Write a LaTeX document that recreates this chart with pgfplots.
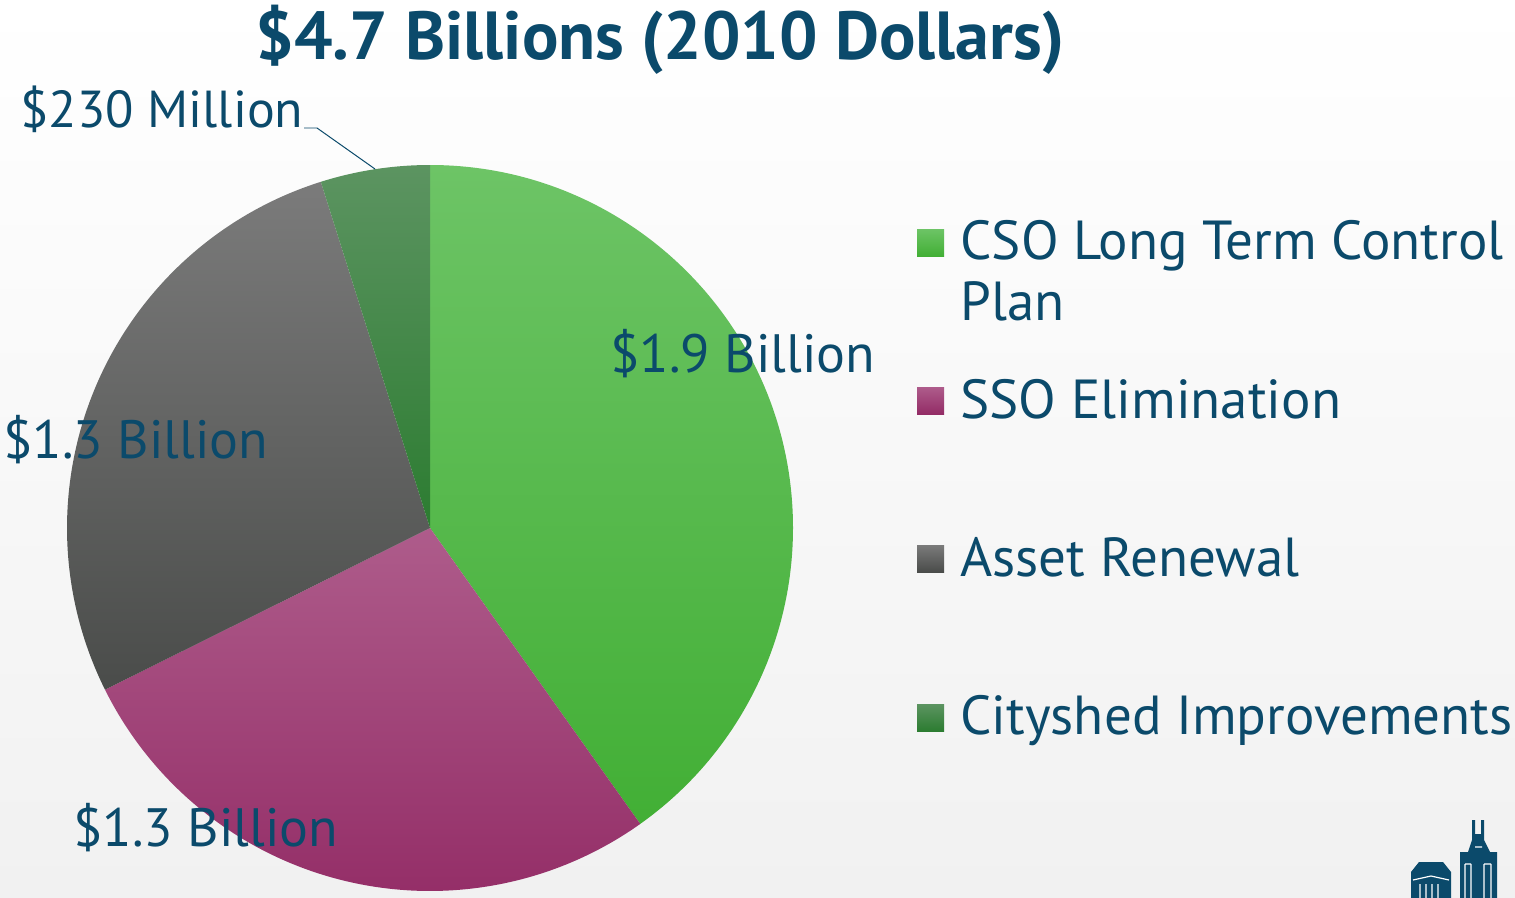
\documentclass[border=0pt]{standalone}
\usepackage{pgfplots}
\pgfplotsset{compat=1.18}
\usepackage{pgfplotstable}
\usepackage{fontspec}
\setmainfont{PT Sans}

\definecolor{txtblue}{HTML}{0B4A6B}
\definecolor{gTop}{HTML}{6DC466}
\definecolor{gBot}{HTML}{42AF35}
\definecolor{mTop}{HTML}{AE5C8B}
\definecolor{mBot}{HTML}{932C66}
\definecolor{kTop}{HTML}{7B7B7B}
\definecolor{kBot}{HTML}{4A4C4A}
\definecolor{dTop}{HTML}{5C9461}
\definecolor{dBot}{HTML}{2C7C31}
\definecolor{bgBot}{HTML}{F1F1F1}

\pgfplotstableread{
label value
CSO 1.9
SSO 1.3
Asset 1.3
Cityshed 0.23
}\piedata

\newcommand\getval[2]{\pgfplotstablegetelem{#1}{value}\of\piedata\let#2\pgfplotsretval}
\getval{0}\vA
\getval{1}\vB
\getval{2}\vC
\getval{3}\vD
\pgfmathsetmacro\tot{\vA+\vB+\vC+\vD}
\pgfmathsetmacro\aA{90}
\pgfmathsetmacro\aB{\aA-360*\vA/\tot}
\pgfmathsetmacro\aC{\aB-360*\vB/\tot}
\pgfmathsetmacro\aD{\aC-360*\vC/\tot}
\pgfmathsetmacro\aE{\aD-360*\vD/\tot}

% pie slice: start angle, end angle, top colour, bottom colour
\newcommand\slice[4]{%
  \path[top color=#3, bottom color=#4]
    (axis cs:430,528) -- (axis cs:{430+363*cos(#1)},{528-363*sin(#1)})
    arc[start angle=#1, end angle=#2, radius=181.5bp] -- cycle;}

\newcommand\lbl{\fontsize{27bp}{32bp}\selectfont}
\newcommand\lgd{\fontsize{27.5bp}{32bp}\selectfont}

\begin{document}
\begin{tikzpicture}
\begin{axis}[
    scale only axis,
    width=757.5bp, height=449bp,
    xmin=0, xmax=1515, ymin=0, ymax=898,
    y dir=reverse,
    hide axis,
    clip=false,
]
% background
\path[top color=white, bottom color=bgBot] (axis cs:0,0) rectangle (axis cs:1515,898);

\slice{\aA}{\aB}{gTop}{gBot}
\slice{\aB}{\aC}{mTop}{mBot}
\slice{\aC}{\aD}{kTop}{kBot}
\slice{\aD}{\aE}{dTop}{dBot}

% title
\node[anchor=base, inner sep=0, text=txtblue, font=\fontsize{34bp}{40bp}\selectfont\bfseries]
  at (axis cs:660,60) {\$4.7 Billions (2010 Dollars)};

% slice labels
\node[anchor=base west, inner sep=0, text=txtblue, font=\lbl] at (axis cs:610,372) {\$1.9 Billion};
\node[anchor=base west, inner sep=0, text=txtblue, font=\lbl] at (axis cs:3,458) {\$1.3 Billion};
\node[anchor=base west, inner sep=0, text=txtblue, font=\lbl] at (axis cs:73,846) {\$1.3 Billion};
\node[anchor=base west, inner sep=0, text=txtblue, font=\fontsize{26bp}{30bp}\selectfont] at (axis cs:20,128) {\$230 Million};
\draw[txtblue, line width=0.5pt] (axis cs:304,128) -- (axis cs:317,128) -- (axis cs:375,169);

% legend
\path[top color=gTop, bottom color=gBot] (axis cs:917,229) rectangle (axis cs:944,256);
\path[top color=mTop, bottom color=mBot] (axis cs:917,387) rectangle (axis cs:944,414);
\path[top color=kTop, bottom color=kBot] (axis cs:917,545) rectangle (axis cs:944,572);
\path[top color=dTop, bottom color=dBot] (axis cs:917,704) rectangle (axis cs:944,731);
\node[anchor=base west, inner sep=0, text=txtblue, font=\lgd] at (axis cs:960,259) {CSO Long Term Control};
\node[anchor=base west, inner sep=0, text=txtblue, font=\lgd] at (axis cs:960,320) {Plan};
\node[anchor=base west, inner sep=0, text=txtblue, font=\lgd] at (axis cs:960,418) {SSO Elimination};
\node[anchor=base west, inner sep=0, text=txtblue, font=\lgd] at (axis cs:960,576) {Asset Renewal};
\node[anchor=base west, inner sep=0, text=txtblue, font=\lgd] at (axis cs:960,734) {Cityshed Improvements};

% logo corner
\fill[txtblue] (axis cs:1411,898) -- (axis cs:1411,872) -- (axis cs:1419,862) -- (axis cs:1443,862)
  -- (axis cs:1451,872) -- (axis cs:1451,898) -- cycle;
\fill[txtblue] (axis cs:1460,898) -- (axis cs:1460,852) -- (axis cs:1468,852) -- (axis cs:1472,840)
  -- (axis cs:1472,820) -- (axis cs:1475,820) -- (axis cs:1475,834) -- (axis cs:1481,834)
  -- (axis cs:1481,820) -- (axis cs:1484,820) -- (axis cs:1484,840) -- (axis cs:1490,852)
  -- (axis cs:1497,852) -- (axis cs:1497,898) -- cycle;
\draw[white, line width=0.6pt] (axis cs:1413,880) -- (axis cs:1431,876) -- (axis cs:1449,880)
  (axis cs:1420,884) -- (axis cs:1420,898) (axis cs:1426,884) -- (axis cs:1426,898)
  (axis cs:1432,884) -- (axis cs:1432,898) (axis cs:1438,884) -- (axis cs:1438,898)
  (axis cs:1475,847) -- (axis cs:1482,847)
  (axis cs:1465,864) -- (axis cs:1465,898) (axis cs:1471,864) -- (axis cs:1471,898)
  (axis cs:1465,864) -- (axis cs:1471,864)
  (axis cs:1484,864) -- (axis cs:1484,898) (axis cs:1491,864) -- (axis cs:1491,898)
  (axis cs:1484,864) -- (axis cs:1491,864);
\end{axis}
\pgfresetboundingbox
\path[use as bounding box] (0,0) rectangle (757.5bp,449bp);
\end{tikzpicture}
\end{document}
